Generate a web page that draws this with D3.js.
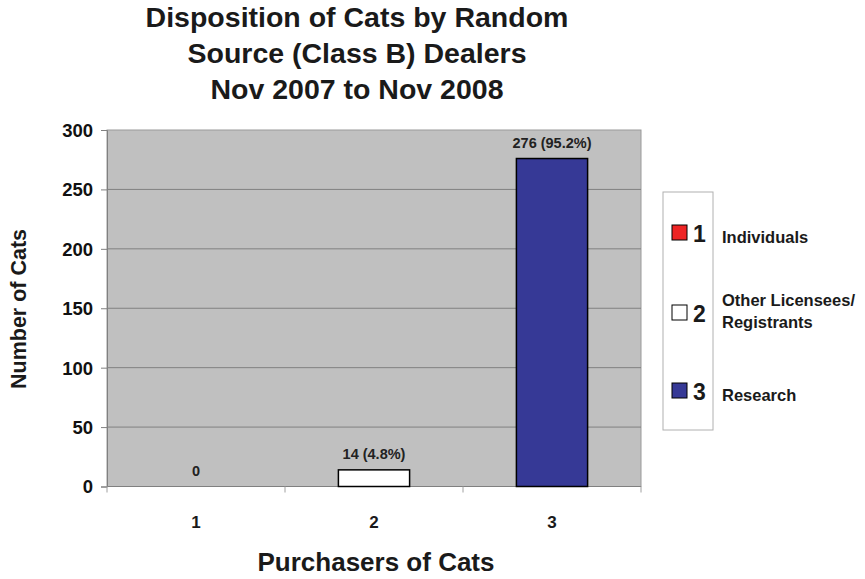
<!DOCTYPE html>
<html>
<head>
<meta charset="utf-8">
<script src="https://cdn.jsdelivr.net/npm/d3@7"></script>
<style>
  body { margin: 0; background: #fff; }
  text { font-family: "Liberation Sans", Arial, sans-serif; font-weight: bold; fill: #1a1a1a; }
</style>
</head>
<body>
<div id="chart"></div>
<script>
var categories = ["1", "2", "3"];
var values = [0, 14, 276];
var barLabels = ["0", "14 (4.8%)", "276 (95.2%)"];
var legendNames = [["Individuals"], ["Other Licensees/", "Registrants"], ["Research"]];
var colors = ["#ee2424", "#ffffff", "#363996"];
var yTicks = [0, 50, 100, 150, 200, 250, 300];
var titleLines = ["Disposition of Cats by Random", "Source (Class B) Dealers", "Nov 2007 to Nov 2008"];

var margin = {top: 130, left: 107},
    width = 534,
    height = 356.5;

var svg = d3.select("#chart").append("svg")
    .attr("width", 865)
    .attr("height", 579);

var x = d3.scaleBand()
    .domain(categories)
    .range([0, width])
    .paddingInner(0.6)
    .paddingOuter(0.3);

var y = d3.scaleLinear()
    .domain([0, 300])
    .range([height, 0]);

var g = svg.append("g")
    .attr("transform", "translate(" + margin.left + "," + margin.top + ")");

// plot background
g.append("rect")
    .attr("width", width)
    .attr("height", height)
    .style("fill", "#c0c0c0")
    .style("stroke", "#9a9a9a");

// grid
g.selectAll(".grid")
    .data(yTicks.slice(1, -1))
  .enter().append("line")
    .attr("x1", 0)
    .attr("x2", width)
    .attr("y1", function(d) { return y(d); })
    .attr("y2", function(d) { return y(d); })
    .style("stroke", "#808080");

// y axis
var yAxis = g.append("g")
    .call(d3.axisLeft(y).tickValues(yTicks).tickSize(6).tickPadding(8));
yAxis.select(".domain").style("stroke", "#808080");
yAxis.selectAll(".tick line").style("stroke", "#808080");
yAxis.selectAll("text").style("font-size", "18.5px").attr("dy", "0.35em").style("fill", "#111");

// x axis with ticks at band boundaries
var xAxis = g.append("g")
    .attr("transform", "translate(0," + height + ")");
xAxis.append("line")
    .attr("x1", 0).attr("x2", width)
    .style("stroke", "#808080");
xAxis.selectAll(".xt")
    .data(d3.range(categories.length + 1))
  .enter().append("line")
    .attr("x1", function(i) { return i * x.step(); })
    .attr("x2", function(i) { return i * x.step(); })
    .attr("y1", 0)
    .attr("y2", 6)
    .style("stroke", "#a0a0a0");
xAxis.selectAll(".xl")
    .data(categories)
  .enter().append("text")
    .attr("x", function(d) { return x(d) + x.bandwidth() / 2; })
    .attr("y", 41)
    .style("text-anchor", "middle")
    .style("font-size", "17px")
    .text(function(d) { return d; });

// bars
g.selectAll(".bar")
    .data(values)
  .enter().append("rect")
    .attr("class", "bar")
    .attr("x", function(d, i) { return x(categories[i]); })
    .attr("width", x.bandwidth())
    .attr("y", function(d) { return y(d); })
    .attr("height", function(d) { return height - y(d); })
    .style("fill", function(d, i) { return colors[i]; })
    .style("stroke", "#000")
    .style("stroke-width", function(d) { return d > 0 ? 1.5 : 0; });

g.selectAll(".lbl")
    .data(values)
  .enter().append("text")
    .attr("x", function(d, i) { return x(categories[i]) + x.bandwidth() / 2; })
    .attr("y", function(d) { return y(d) - 11; })
    .style("text-anchor", "middle")
    .style("font-size", "14.5px")
    .style("fill", "#222")
    .text(function(d, i) { return barLabels[i]; });

// titles
svg.append("text")
    .attr("x", 357)
    .attr("y", 27)
    .style("text-anchor", "middle")
    .style("font-size", "28.5px")
    .selectAll("tspan")
    .data(titleLines)
  .enter().append("tspan")
    .attr("x", 357)
    .attr("dy", function(d, i) { return i ? 36 : 0; })
    .text(function(d) { return d; });

svg.append("text")
    .attr("x", 376)
    .attr("y", 571)
    .style("text-anchor", "middle")
    .style("font-size", "26px")
    .text("Purchasers of Cats");

svg.append("text")
    .attr("transform", "translate(26,309) rotate(-90)")
    .style("text-anchor", "middle")
    .style("font-size", "21.5px")
    .text("Number of Cats");

// legend
var legY = [233, 313, 391];
svg.append("rect")
    .attr("x", 663)
    .attr("y", 192)
    .attr("width", 50)
    .attr("height", 238)
    .style("fill", "#fff")
    .style("stroke", "#b0b0b0");

var leg = svg.selectAll(".leg")
    .data(categories)
  .enter().append("g")
    .attr("transform", function(d, i) { return "translate(672," + legY[i] + ")"; });

leg.append("rect")
    .attr("x", 0)
    .attr("y", -8)
    .attr("width", 15)
    .attr("height", 15)
    .style("fill", function(d, i) { return colors[i]; })
    .style("stroke", "#000");

leg.append("text")
    .attr("x", 21)
    .attr("y", 9)
    .style("font-size", "23px")
    .text(function(d) { return d; });

leg.append("text")
    .attr("x", 50)
    .attr("y", function(d, i) { return legendNames[i].length > 1 ? -7 : 10; })
    .style("font-size", "16.5px")
    .selectAll("tspan")
    .data(function(d, i) { return legendNames[i]; })
  .enter().append("tspan")
    .attr("x", 50)
    .attr("dy", function(d, j) { return j ? 22 : 0; })
    .text(function(d) { return d; });
</script>
</body>
</html>
